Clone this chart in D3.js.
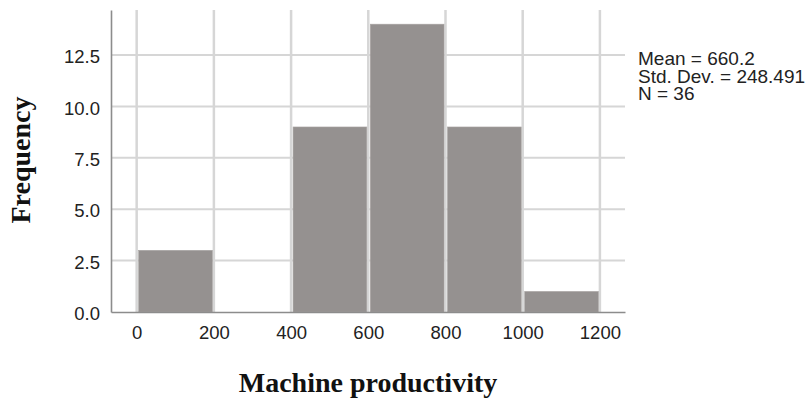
<!DOCTYPE html>
<html>
<head>
<meta charset="utf-8">
<script src="https://cdn.jsdelivr.net/npm/d3@7"></script>
<style>
  html, body { margin: 0; padding: 0; background: #fff; }
  svg { display: block; }
</style>
</head>
<body>
<div id="chart"></div>
<script>
// ---- data ----
const binEdges = [0, 200, 400, 600, 800, 1000, 1200];
const counts = [3, 0, 9, 14, 9, 1];
const xTicks = [0, 200, 400, 600, 800, 1000, 1200];
const yTicks = [0, 2.5, 5.0, 7.5, 10.0, 12.5];
const statsLines = ["Mean = 660.2", "Std. Dev. = 248.491", "N = 36"];
const xTitle = "Machine productivity";
const yTitle = "Frequency";

// ---- layout ----
const W = 809, H = 400;
const plotLeft = 111, plotRight = 625, plotTop = 10, plotBottom = 312;

const svg = d3.select("#chart").append("svg")
  .attr("width", W).attr("height", H);

const x = d3.scaleLinear().domain([-66.5, 1265]).range([plotLeft, plotRight]);
const y = d3.scaleLinear().domain([0, 14.69]).range([plotBottom, plotTop]);

const gridColor = "#d6d6d6";
const axisColor = "#8c8c8c";
const barColor = "#959190";
const sans = "'Liberation Sans', Arial, sans-serif";
const serif = "'Liberation Serif', 'Times New Roman', serif";

// gridlines
const grid = svg.append("g");
grid.selectAll("line.h").data(yTicks.filter(d => d > 0)).join("line")
  .attr("x1", plotLeft).attr("x2", plotRight)
  .attr("y1", d => y(d)).attr("y2", d => y(d))
  .attr("stroke", gridColor).attr("stroke-width", 2);
grid.selectAll("line.v").data(xTicks).join("line")
  .attr("x1", d => x(d)).attr("x2", d => x(d))
  .attr("y1", plotTop).attr("y2", plotBottom)
  .attr("stroke", gridColor).attr("stroke-width", 2.5);

// bars
const bins = counts.map((c, i) => ({ x0: binEdges[i], x1: binEdges[i + 1], n: c }));
svg.append("g").selectAll("rect").data(bins.filter(b => b.n > 0)).join("rect")
  .attr("x", d => x(d.x0) + 2)
  .attr("width", d => x(d.x1) - x(d.x0) - 3.5)
  .attr("y", d => y(d.n))
  .attr("height", d => y(0) - y(d.n))
  .attr("fill", barColor)
  .attr("stroke", "#a8a4a2").attr("stroke-width", 0.6);

// axes
const xAxis = svg.append("g").attr("transform", `translate(0,${plotBottom})`)
  .call(d3.axisBottom(x).tickValues(xTicks).tickSize(0).tickPadding(14).tickFormat(d3.format("d")));
xAxis.select(".domain").attr("stroke", axisColor).attr("stroke-width", 1.6);
xAxis.selectAll("text").attr("font-family", sans).attr("font-size", 18.5).attr("fill", "#222");

const yAxis = svg.append("g").attr("transform", `translate(${plotLeft},0)`)
  .call(d3.axisLeft(y).tickValues(yTicks).tickSize(0).tickPadding(11).tickFormat(d3.format(".1f")));
yAxis.select(".domain").attr("stroke", axisColor).attr("stroke-width", 1.6);
yAxis.selectAll("text").attr("font-family", sans).attr("font-size", 18.5).attr("fill", "#222")
  .attr("dy", "0.42em");

// titles
svg.append("text")
  .attr("x", 368).attr("y", 392)
  .attr("text-anchor", "middle")
  .attr("font-family", serif).attr("font-weight", "bold").attr("font-size", 28)
  .attr("fill", "#111")
  .text(xTitle);

svg.append("text")
  .attr("transform", "translate(30,160) rotate(-90)")
  .attr("text-anchor", "middle")
  .attr("font-family", serif).attr("font-weight", "bold").attr("font-size", 28)
  .attr("fill", "#111")
  .text(yTitle);

// stats
svg.append("g").selectAll("text").data(statsLines).join("text")
  .attr("x", 638)
  .attr("y", (d, i) => 65 + i * 17.5)
  .attr("font-family", sans).attr("font-size", 19)
  .attr("fill", "#222")
  .text(d => d);
</script>
</body>
</html>
